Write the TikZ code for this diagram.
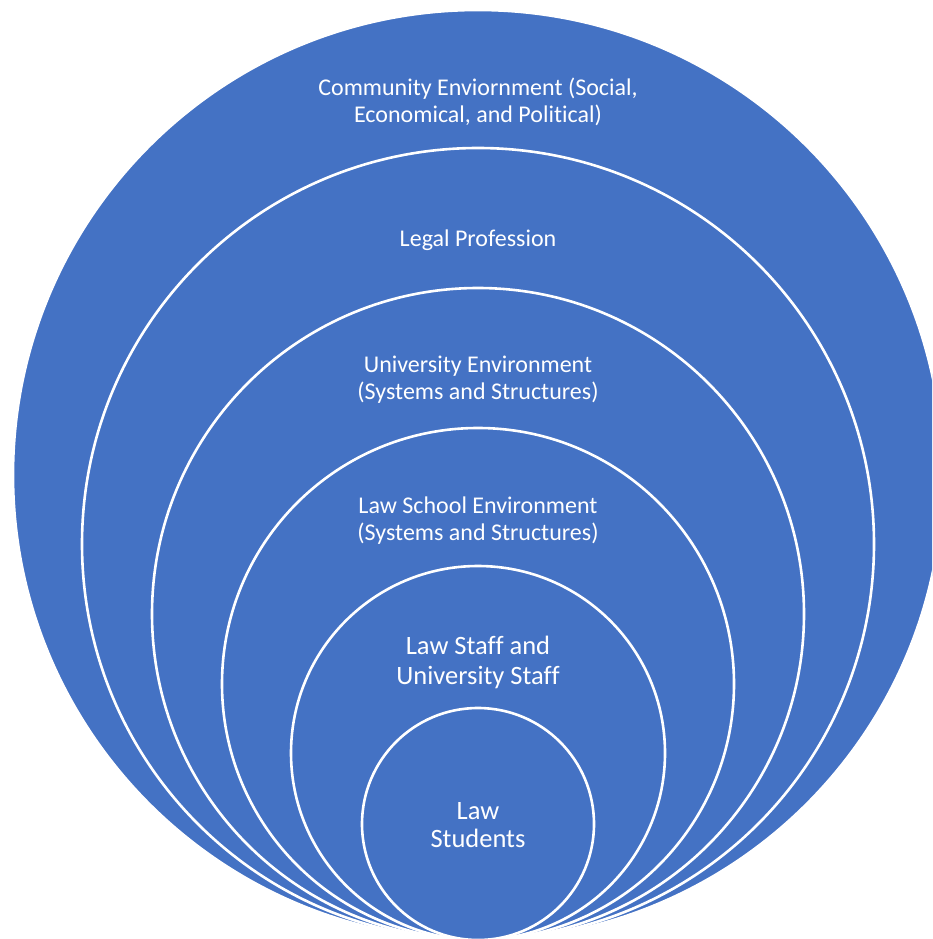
\documentclass[tikz,border=0pt]{standalone}
\usepackage{fontspec}
\setmainfont{Carlito}[Ligatures=NoCommon]
\definecolor{ringblue}{HTML}{4472C4}
\tikzset{
  ring/.style={circle, draw=white, fill=ringblue, line width=2.6pt, inner sep=0pt},
  lbl/.style={text=white, align=center, inner sep=0pt, font=\fontsize{24}{27}\selectfont},
  lblbig/.style={text=white, align=center, inner sep=0pt, font=\fontsize{26.5}{30}\selectfont}
}
\begin{document}
\begin{tikzpicture}[x=1pt,y=-1pt]
\useasboundingbox (0,0) rectangle (932,939);
\clip (0,0) rectangle (932,939);
\node[ring, minimum size=930pt] (c1) at (478,475) {};
\node[ring, minimum size=792pt] (c2) at (478,544) {};
\node[ring, minimum size=652pt] (c3) at (478,614) {};
\node[ring, minimum size=512pt] (c4) at (478,684) {};
\node[ring, minimum size=374pt] (c5) at (478,753) {};
\node[ring, minimum size=232pt] (c6) at (478,824) {};
\node[lbl] (t1) at (478,102) {Community Enviornment (Social,\\Economical, and Political)};
\node[lbl] (t2) at (478,240) {Legal Profession};
\node[lbl] (t3) at (478,380) {University Environment\\(Systems and Structures)};
\node[lbl] (t4) at (478,521) {Law School Environment\\(Systems and Structures)};
\node[lblbig] (t5) at (478,662) {Law Staff and\\University Staff};
\node[lblbig, font=\fontsize{26.5}{28}\selectfont] (t6) at (478,825) {Law\\Students};
\end{tikzpicture}
\end{document}
